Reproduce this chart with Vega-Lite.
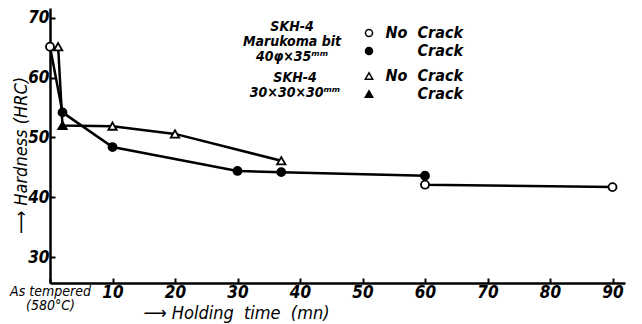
{
  "$schema": "https://vega.github.io/schema/vega-lite/v6.json",
  "width": 575,
  "height": 275,
  "autosize": "none",
  "padding": {"left": 50, "top": 8, "right": 17, "bottom": 41},
  "background": "white",
  "config": {
    "font": "DejaVu Sans Condensed",
    "view": {"stroke": null},
    "axis": {"grid": false, "domainColor": "black", "domainWidth": 2.5, "tickColor": "black", "tickWidth": 2, "labelColor": "black", "titleColor": "black", "labelFontStyle": "italic", "titleFontStyle": "italic", "labelFontWeight": "bold", "titleFontWeight": "normal"}
  },
  "data": {
    "values": [
      {"series": "A", "key": "A_no", "t": 0, "h": 65.2, "seq": 1},
      {"series": "A", "key": "A_crack", "t": 2, "h": 54.2, "seq": 2},
      {"series": "A", "key": "A_crack", "t": 10, "h": 48.4, "seq": 3},
      {"series": "A", "key": "A_crack", "t": 30, "h": 44.4, "seq": 4},
      {"series": "A", "key": "A_crack", "t": 37, "h": 44.2, "seq": 5},
      {"series": "A", "key": "A_crack", "t": 60, "h": 43.6, "seq": 6},
      {"series": "A", "key": "A_no", "t": 60, "h": 42.1, "seq": 7},
      {"series": "A", "key": "A_no", "t": 90, "h": 41.7, "seq": 8},
      {"series": "B", "key": "B_no", "t": 1.3, "h": 65.2, "seq": 1},
      {"series": "B", "key": "B_crack", "t": 2, "h": 52.0, "seq": 2},
      {"series": "B", "key": "B_no", "t": 10, "h": 51.9, "seq": 3},
      {"series": "B", "key": "B_no", "t": 20, "h": 50.6, "seq": 4},
      {"series": "B", "key": "B_no", "t": 37, "h": 46.1, "seq": 5}
    ]
  },
  "encoding": {
    "x": {
      "field": "t", "type": "quantitative",
      "scale": {"domain": [0, 92], "nice": false, "zero": false},
      "axis": {
        "values": [0, 10, 20, 30, 40, 50, 60, 70, 80, 90],
        "tickSize": -5,
        "labelFontSize": {"condition": {"test": "datum.value === 0", "value": 14}, "value": 17},
        "labelFontWeight": {"condition": {"test": "datum.value === 0", "value": "normal"}, "value": "bold"},
        "labelExpr": "datum.value === 0 ? ['As tempered', '(580°C)'] : datum.label",
        "labelLineHeight": 14,
        "labelPadding": 6,
        "labelFlush": false,
        "labelOverlap": false,
        "title": "⟶ Holding\u00a0 time\u00a0 (mn)",
        "titleFontSize": 18,
        "titleX": 186,
        "titleY": 30,
        "titleAlign": "center",
        "titleBaseline": "middle"
      }
    },
    "y": {
      "field": "h", "type": "quantitative",
      "scale": {"domain": [25.65, 71.67], "nice": false, "zero": false},
      "axis": {
        "values": [30, 40, 50, 60, 70],
        "tickSize": -5,
        "labelFontSize": 17,
        "labelPadding": 6,
        "title": "⟶ Hardness (HRC)",
        "titleFontSize": 18,
        "titleX": -29,
        "titleY": 147,
        "titleAlign": "center",
        "titleBaseline": "middle"
      }
    }
  },
  "layer": [
    {
      "transform": [{"filter": "datum.series === 'A'"}],
      "layer": [
        {"mark": {"type": "line", "color": "black", "strokeWidth": 2.5}, "encoding": {"order": {"field": "seq"}}},
        {
          "mark": {"type": "point", "stroke": "black", "strokeWidth": 1.8, "size": 64, "opacity": 1},
          "encoding": {
            "shape": {"field": "key", "type": "nominal", "scale": {"domain": ["A_no", "A_crack"], "range": ["circle", "circle"]},
              "legend": {"orient": "none", "legendX": 193, "legendY": 17, "padding": 0,
                "title": ["SKH-4", "Marukoma bit", "40φ×35ᵐᵐ"], "titleOrient": "left", "titleAlign": "center", "titleFontSize": 14, "titleLineHeight": 15, "titleFontStyle": "italic", "titleFontWeight": "bold", "titlePadding": -30,
                "labelExpr": "datum.value === 'A_no' ? 'No\u00a0 Crack' : 'Crack'",
                "labelAlign": "right",
                "labelFontSize": 16, "labelFontStyle": "italic", "labelFontWeight": "bold", "labelOffset": 86, "rowPadding": 2, "symbolSize": 50,
                "encode": {"symbols": {"update": {"stroke": {"value": "black"}, "strokeWidth": {"value": 1.8}, "fill": {"signal": "datum.value === 'A_no' ? 'white' : 'black'"}, "opacity": {"value": 1}}}}}},
            "fill": {"field": "key", "type": "nominal", "scale": {"domain": ["A_no", "A_crack"], "range": ["white", "black"]}, "legend": null}
          }
        }
      ]
    },
    {
      "transform": [{"filter": "datum.series === 'B'"}],
      "layer": [
        {"mark": {"type": "line", "color": "black", "strokeWidth": 2.5}, "encoding": {"order": {"field": "seq"}}},
        {
          "mark": {"type": "point", "stroke": "black", "strokeWidth": 1.8, "size": 70, "opacity": 1},
          "encoding": {
            "shape": {"field": "key", "type": "nominal", "scale": {"domain": ["B_no", "B_crack"], "range": ["triangle-up", "triangle-up"]},
              "legend": {"orient": "none", "legendX": 200, "legendY": 60, "padding": 0,
                "title": ["SKH-4", "30×30×30ᵐᵐ"], "titleOrient": "left", "titleAlign": "center", "titleFontSize": 14, "titleLineHeight": 15, "titleFontStyle": "italic", "titleFontWeight": "bold", "titlePadding": -25,
                "labelExpr": "datum.value === 'B_no' ? 'No\u00a0 Crack' : 'Crack'",
                "labelAlign": "right",
                "labelFontSize": 16, "labelFontStyle": "italic", "labelFontWeight": "bold", "labelOffset": 86, "rowPadding": 2, "symbolSize": 55,
                "encode": {"symbols": {"update": {"stroke": {"value": "black"}, "strokeWidth": {"value": 1.8}, "fill": {"signal": "datum.value === 'B_no' ? 'white' : 'black'"}, "opacity": {"value": 1}}}}}},
            "fill": {"field": "key", "type": "nominal", "scale": {"domain": ["B_no", "B_crack"], "range": ["white", "black"]}, "legend": null}
          }
        }
      ]
    }
  ],
  "resolve": {"scale": {"shape": "independent", "fill": "independent"}}
}
